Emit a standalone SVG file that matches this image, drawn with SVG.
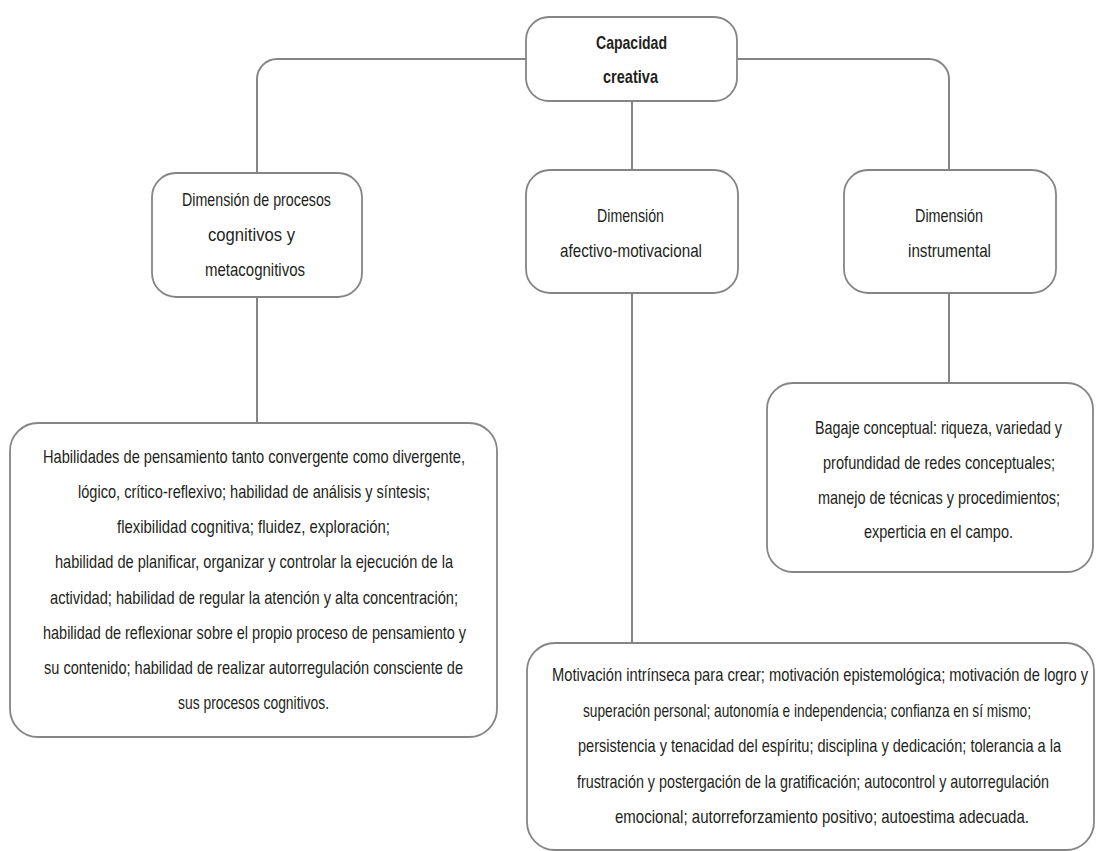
<svg xmlns="http://www.w3.org/2000/svg" width="1096" height="851" viewBox="0 0 1096 851">
<style>
.box{fill:#fff;stroke:#858585;stroke-width:1.8}
.conn{fill:none;stroke:#858585;stroke-width:2}
text{font-family:"Liberation Sans Narrow","Liberation Sans",Arial,sans-serif;font-size:19px;fill:#231f20}
.b{font-weight:bold}
</style>
<rect width="1096" height="851" fill="#fff"/>
<g id="connectors">
<path class="conn" d="M526,59 H277 A20,20 0 0 0 257,79 V173"/>
<path class="conn" d="M737,59 H929 A20,20 0 0 1 949,79 V170"/>
<path class="conn" d="M632,101 V170"/>
<path class="conn" d="M257,297 V423"/>
<path class="conn" d="M632,293 V643"/>
<path class="conn" d="M949,293 V383"/>
</g>
<g id="capacidad">
<rect class="box" x="526" y="17" width="211" height="84" rx="23"/>
<text class="b" x="596" y="49" textLength="71" lengthAdjust="spacingAndGlyphs">Capacidad</text>
<text class="b" x="603" y="83" textLength="55" lengthAdjust="spacingAndGlyphs">creativa</text>
</g>
<g id="dim-cognitiva">
<rect class="box" x="152" y="173" width="210" height="124" rx="24"/>
<text x="182" y="206" textLength="149" lengthAdjust="spacingAndGlyphs">Dimensión de procesos</text>
<text x="208" y="241" textLength="87" lengthAdjust="spacingAndGlyphs">cognitivos y</text>
<text x="205" y="276" textLength="100" lengthAdjust="spacingAndGlyphs">metacognitivos</text>
</g>
<g id="dim-afectiva">
<rect class="box" x="526" y="170" width="212" height="123" rx="24"/>
<text x="597" y="222" textLength="67" lengthAdjust="spacingAndGlyphs">Dimensión</text>
<text x="560" y="257" textLength="142" lengthAdjust="spacingAndGlyphs">afectivo-motivacional</text>
</g>
<g id="dim-instrumental">
<rect class="box" x="844" y="170" width="212" height="123" rx="24"/>
<text x="915" y="222" textLength="68" lengthAdjust="spacingAndGlyphs">Dimensión</text>
<text x="908" y="257" textLength="83" lengthAdjust="spacingAndGlyphs">instrumental</text>
</g>
<g id="habilidades">
<rect class="box" x="10" y="423" width="487" height="314" rx="28"/>
<text x="43" y="463" textLength="422" lengthAdjust="spacingAndGlyphs">Habilidades de pensamiento tanto convergente como divergente,</text>
<text x="78" y="498" textLength="352" lengthAdjust="spacingAndGlyphs">lógico, crítico-reflexivo; habilidad de análisis y síntesis;</text>
<text x="117" y="533" textLength="273" lengthAdjust="spacingAndGlyphs">flexibilidad cognitiva; fluidez, exploración;</text>
<text x="55" y="568" textLength="398" lengthAdjust="spacingAndGlyphs">habilidad de planificar, organizar y controlar la ejecución de la</text>
<text x="50" y="604" textLength="408" lengthAdjust="spacingAndGlyphs">actividad; habilidad de regular la atención y alta concentración;</text>
<text x="43" y="639" textLength="423" lengthAdjust="spacingAndGlyphs">habilidad de reflexionar sobre el propio proceso de pensamiento y</text>
<text x="44" y="674" textLength="419" lengthAdjust="spacingAndGlyphs">su contenido; habilidad de realizar autorregulación consciente de</text>
<text x="178" y="709" textLength="151" lengthAdjust="spacingAndGlyphs">sus procesos cognitivos.</text>
</g>
<g id="bagaje">
<rect class="box" x="767" y="383" width="326" height="189" rx="26"/>
<text x="815" y="434" textLength="247" lengthAdjust="spacingAndGlyphs">Bagaje conceptual: riqueza, variedad y</text>
<text x="823" y="469" textLength="232" lengthAdjust="spacingAndGlyphs">profundidad de redes conceptuales;</text>
<text x="818" y="504" textLength="242" lengthAdjust="spacingAndGlyphs">manejo de técnicas y procedimientos;</text>
<text x="864" y="538" textLength="149" lengthAdjust="spacingAndGlyphs">experticia en el campo.</text>
</g>
<g id="motivacion">
<rect class="box" x="527" y="643" width="567" height="207" rx="28"/>
<text x="552" y="681" textLength="536" lengthAdjust="spacingAndGlyphs">Motivación intrínseca para crear; motivación epistemológica; motivación de logro y</text>
<text x="583" y="717" textLength="448" lengthAdjust="spacingAndGlyphs">superación personal; autonomía e independencia; confianza en sí mismo;</text>
<text x="578" y="752" textLength="483" lengthAdjust="spacingAndGlyphs">persistencia y tenacidad del espíritu; disciplina y dedicación; tolerancia a la</text>
<text x="577" y="788" textLength="472" lengthAdjust="spacingAndGlyphs">frustración y postergación de la gratificación; autocontrol y autorregulación</text>
<text x="615" y="823" textLength="414" lengthAdjust="spacingAndGlyphs">emocional; autorreforzamiento positivo; autoestima adecuada.</text>
</g>
</svg>
